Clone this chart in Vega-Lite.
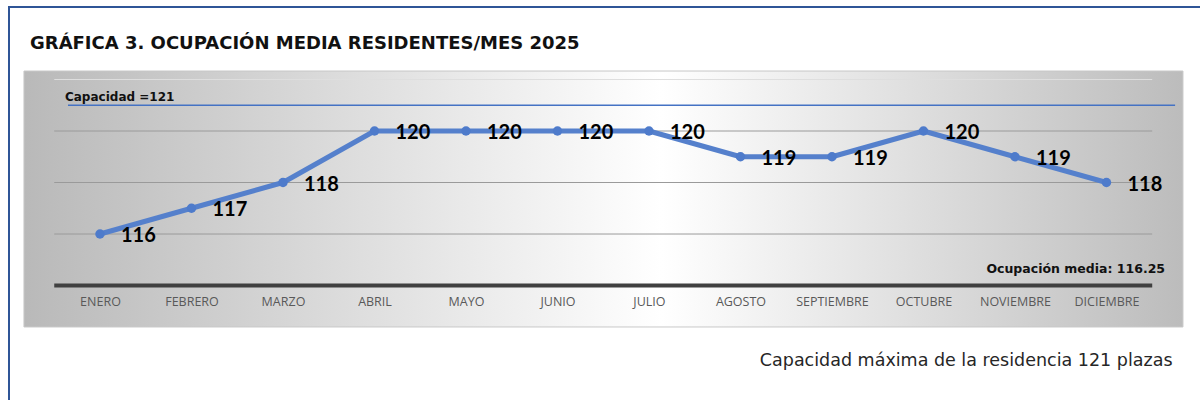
{
  "$schema": "https://vega.github.io/schema/vega-lite/v6.json",
  "autosize": "none",
  "width": 1195,
  "height": 398,
  "padding": {"left": 9, "top": 7, "right": 0, "bottom": 0},
  "background": "white",
  "config": {
    "view": {"fill": "white", "stroke": "#2F5597", "strokeWidth": 2}
  },
  "title": {
    "text": "GRÁFICA 3. OCUPACIÓN MEDIA RESIDENTES/MES 2025",
    "anchor": "start",
    "frame": "group",
    "orient": "top",
    "offset": -60,
    "dx": 21,
    "baseline": "alphabetic",
    "font": "DejaVu Sans",
    "fontSize": 18,
    "fontWeight": "bold",
    "color": "#111111"
  },
  "datasets": {
    "meses": [
      {"n": 1, "mes": "ENERO", "residentes": 116},
      {"n": 2, "mes": "FEBRERO", "residentes": 117},
      {"n": 3, "mes": "MARZO", "residentes": 118},
      {"n": 4, "mes": "ABRIL", "residentes": 120},
      {"n": 5, "mes": "MAYO", "residentes": 120},
      {"n": 6, "mes": "JUNIO", "residentes": 120},
      {"n": 7, "mes": "JULIO", "residentes": 120},
      {"n": 8, "mes": "AGOSTO", "residentes": 119},
      {"n": 9, "mes": "SEPTIEMBRE", "residentes": 119},
      {"n": 10, "mes": "OCTUBRE", "residentes": 120},
      {"n": 11, "mes": "NOVIEMBRE", "residentes": 119},
      {"n": 12, "mes": "DICIEMBRE", "residentes": 118}
    ],
    "rejilla": [
      {"valor": 116},
      {"valor": 118},
      {"valor": 120}
    ]
  },
  "layer": [
    {
      "data": {"values": [{"panel": "fondo"}]},
      "mark": {
        "type": "rect",
        "color": {
          "gradient": "linear",
          "x1": 0, "y1": 0, "x2": 1, "y2": 0,
          "stops": [
            {"offset": 0, "color": "#b9b9b9"},
            {"offset": 0.55, "color": "#ffffff"},
            {"offset": 1, "color": "#bcbcbc"}
          ]
        },
        "stroke": "#c8c8c8",
        "strokeWidth": 1
      },
      "encoding": {
        "x": {"datum": 0.169, "type": "quantitative", "scale": {"domain": [0.0055, 13.066], "nice": false, "zero": false},
          "axis": {
            "orient": "bottom",
            "offset": -120,
            "zindex": 2,
            "values": [1, 2, 3, 4, 5, 6, 7, 8, 9, 10, 11, 12],
            "labelExpr": "['','ENERO','FEBRERO','MARZO','ABRIL','MAYO','JUNIO','JULIO','AGOSTO','SEPTIEMBRE','OCTUBRE','NOVIEMBRE','DICIEMBRE'][datum.value]",
            "domain": false,
            "ticks": false,
            "grid": false,
            "labelPadding": 10,
            "labelFont": "Open Sans",
            "labelFontSize": 12.5,
            "labelColor": "#595959",
            "labelFlush": false,
            "labelOverlap": false,
            "title": "Capacidad máxima de la residencia 121 plazas",
            "titleFont": "DejaVu Sans",
            "titleFontSize": 17.5,
            "titleFontWeight": "normal",
            "titleColor": "#262626",
            "titleAlign": "right",
            "titleAnchor": "end",
            "titleBaseline": "middle",
            "titleX": 1163,
            "titleY": 75
          }
        },
        "x2": {"datum": 12.836},
        "y": {"datum": 122.33, "type": "quantitative", "scale": {"domain": [109.36, 124.816], "nice": false, "zero": false}, "axis": null},
        "y2": {"datum": 112.39}
      }
    },
    {
      "data": {"values": [{"valor": 122}]},
      "mark": {"type": "rule", "color": "#dedede", "strokeWidth": 1},
      "encoding": {
        "x": {"datum": 0.5, "type": "quantitative"},
        "x2": {"datum": 12.5},
        "y": {"field": "valor", "type": "quantitative"}
      }
    },
    {
      "data": {"name": "rejilla"},
      "mark": {"type": "rule", "color": "#9a9a9a", "strokeWidth": 1},
      "encoding": {
        "x": {"datum": 0.5, "type": "quantitative"},
        "x2": {"datum": 12.5},
        "y": {"field": "valor", "type": "quantitative"}
      }
    },
    {
      "data": {"values": [{"valor": 114}]},
      "mark": {"type": "rule", "color": "#404040", "strokeWidth": 4},
      "encoding": {
        "x": {"datum": 0.5, "type": "quantitative"},
        "x2": {"datum": 12.5},
        "y": {"field": "valor", "type": "quantitative"}
      }
    },
    {
      "data": {"values": [{"capacidad": 121, "texto": "Capacidad =121"}]},
      "layer": [
        {
          "mark": {"type": "rule", "color": "#4472C4", "strokeWidth": 1.5},
          "encoding": {
            "x": {"datum": 0.65, "type": "quantitative"},
            "x2": {"datum": 12.75},
            "y": {"field": "capacidad", "type": "quantitative"}
          }
        },
        {
          "mark": {"type": "text", "align": "left", "baseline": "middle", "dx": -3, "dy": -8, "font": "DejaVu Sans", "fontSize": 12, "fontWeight": "bold", "color": "#111111"},
          "encoding": {
            "x": {"datum": 0.65, "type": "quantitative"},
            "y": {"field": "capacidad", "type": "quantitative"},
            "text": {"field": "texto"}
          }
        }
      ]
    },
    {
      "data": {"values": [{"base": 114, "texto": "Ocupación media: 116.25"}]},
      "mark": {"type": "text", "align": "right", "baseline": "middle", "dy": -17, "font": "DejaVu Sans", "fontSize": 12.5, "fontWeight": "bold", "color": "#111111"},
      "encoding": {
        "x": {"datum": 12.64, "type": "quantitative"},
        "y": {"field": "base", "type": "quantitative"},
        "text": {"field": "texto"}
      }
    },
    {
      "data": {"name": "meses"},
      "mark": {"type": "line", "color": "#5580CC", "strokeWidth": 5, "strokeJoin": "round"},
      "encoding": {
        "x": {"field": "n", "type": "quantitative"},
        "y": {"field": "residentes", "type": "quantitative"}
      }
    },
    {
      "data": {"name": "meses"},
      "mark": {"type": "point", "filled": true, "opacity": 1, "color": "#4E7BCB", "size": 90},
      "encoding": {
        "x": {"field": "n", "type": "quantitative"},
        "y": {"field": "residentes", "type": "quantitative"}
      }
    },
    {
      "data": {"name": "meses"},
      "mark": {"type": "text", "align": "left", "baseline": "middle", "dx": 21, "dy": 2, "font": "Lato", "fontSize": 20, "fontWeight": "bold", "color": "#000000"},
      "encoding": {
        "x": {"field": "n", "type": "quantitative"},
        "y": {"field": "residentes", "type": "quantitative"},
        "text": {"field": "residentes", "type": "quantitative"}
      }
    }
  ]
}
